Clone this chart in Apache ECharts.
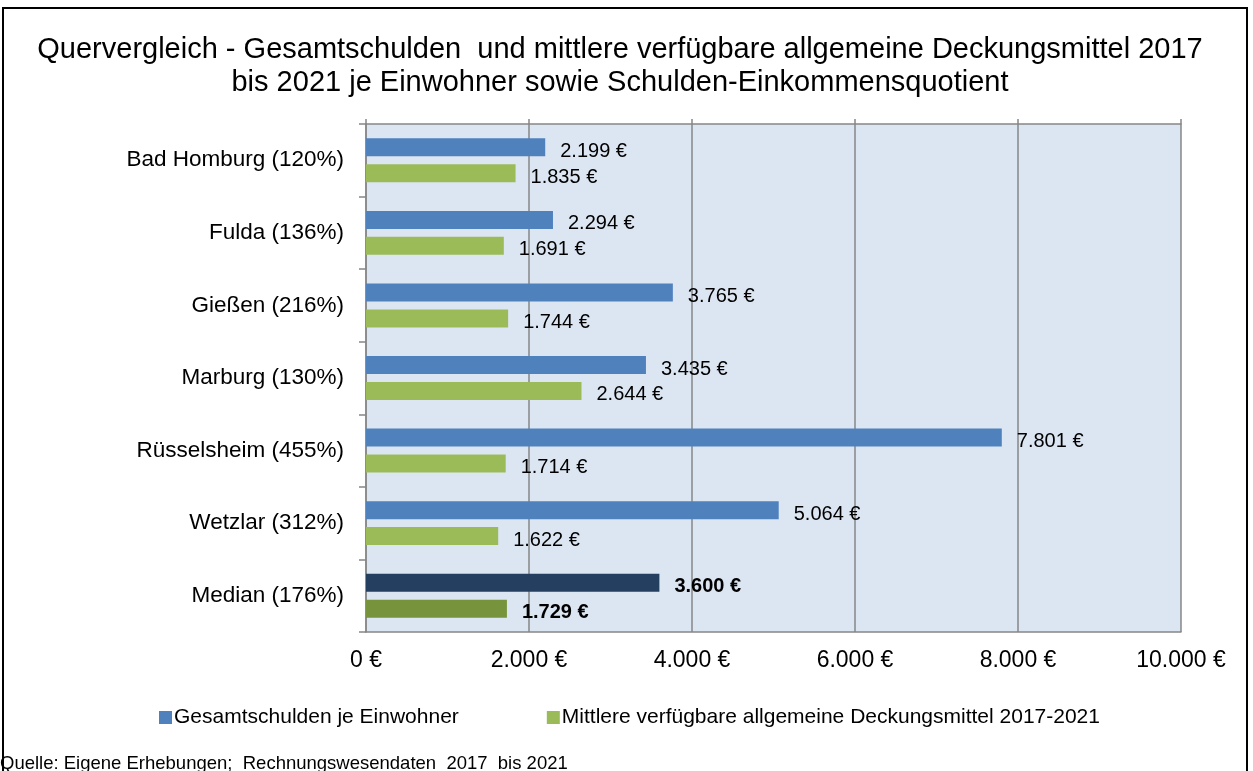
<!DOCTYPE html>
<html>
<head>
<meta charset="utf-8">
<script src="https://cdn.jsdelivr.net/npm/echarts@6/dist/echarts.min.js"></script>
<style>
  html, body { margin: 0; padding: 0; background: #fff; }
  #container { width: 1253px; height: 771px; }
</style>
</head>
<body>
<div id="container"></div>
<script>
var categories = ['Bad Homburg (120%)', 'Fulda (136%)', 'Gießen (216%)', 'Marburg (130%)',
    'Rüsselsheim (455%)', 'Wetzlar (312%)', 'Median (176%)'];
var schulden = [2199, 2294, 3765, 3435, 7801, 5064, 3600];
var deckungsmittel = [1835, 1691, 1744, 2644, 1714, 1622, 1729];
var xTicks = [0, 2000, 4000, 6000, 8000, 10000];

var FONT = '"Liberation Sans", Arial, sans-serif';

// 2199 -> "2.199"
function fmt(v) {
    return String(Math.round(v)).replace(/\B(?=(\d{3})+(?!\d))/g, '.');
}

function buildData(values, medianColor) {
    return values.map(function (v, i) {
        if (categories[i].indexOf('Median') === 0) {
            return {
                value: v,
                itemStyle: { color: medianColor },
                label: { fontWeight: 'bold' }
            };
        }
        return v;
    });
}

var myChart = echarts.init(document.getElementById('container'));

var labelStyle = {
    show: true,
    position: 'right',
    distance: 15,
    offset: [0, 4],
    fontSize: 20,
    color: '#000',
    fontFamily: FONT,
    formatter: function (p) { return fmt(p.value) + ' €'; }
};

myChart.setOption({
    backgroundColor: '#fff',
    animation: false,
    textStyle: { fontFamily: FONT },
    title: {
        text: 'Quervergleich - Gesamtschulden  und mittlere verfügbare allgemeine Deckungsmittel 2017\nbis 2021 je Einwohner sowie Schulden-Einkommensquotient',
        left: 615,
        textAlign: 'center',
        top: 28,
        textStyle: { fontSize: 29, fontWeight: 'normal', color: '#000', fontFamily: FONT, lineHeight: 33 }
    },
    legend: {
        left: 154,
        top: 702,
        itemWidth: 13,
        itemHeight: 13,
        itemGap: 88,
        icon: 'rect',
        textStyle: { fontSize: 21, color: '#000', fontFamily: FONT, padding: [0, 0, 0, -3] },
        data: ['Gesamtschulden je Einwohner', 'Mittlere verfügbare allgemeine Deckungsmittel 2017-2021']
    },
    grid: {
        left: 366,
        right: 72,
        top: 124,
        bottom: 139,
        show: true,
        backgroundColor: '#DCE6F2',
        borderWidth: 0
    },
    xAxis: [{
        type: 'value',
        min: xTicks[0],
        max: xTicks[xTicks.length - 1],
        interval: 2000,
        axisLine: { show: true, lineStyle: { color: '#878787', width: 1.5 } },
        axisTick: { show: false },
        splitLine: { show: true, lineStyle: { color: '#878787', width: 1.5 } },
        axisLabel: {
            fontSize: 23, color: '#000', margin: 17, fontFamily: FONT,
            formatter: function (v) { return fmt(v) + ' €'; }
        }
    }, {
        type: 'value',
        position: 'top',
        min: xTicks[0],
        max: xTicks[xTicks.length - 1],
        interval: 2000,
        axisLine: { show: true, lineStyle: { color: '#878787', width: 1.5 } },
        axisTick: { show: true, length: 5, lineStyle: { color: '#878787', width: 1.5 } },
        splitLine: { show: false },
        axisLabel: { show: false }
    }],
    yAxis: {
        type: 'category',
        inverse: true,
        data: categories,
        axisLine: { show: true, lineStyle: { color: '#878787', width: 1.5 } },
        axisTick: { show: true, length: 7, lineStyle: { color: '#878787', width: 1.5 } },
        axisLabel: { fontSize: 22.5, color: '#000', margin: 22, fontFamily: FONT }
    },
    series: [{
        name: 'Gesamtschulden je Einwohner',
        type: 'bar',
        barWidth: 18,
        barGap: '44%',
        itemStyle: { color: '#4F81BD' },
        label: labelStyle,
        data: buildData(schulden, '#243F60')
    }, {
        name: 'Mittlere verfügbare allgemeine Deckungsmittel 2017-2021',
        type: 'bar',
        barWidth: 18,
        itemStyle: { color: '#9BBB59' },
        label: labelStyle,
        data: buildData(deckungsmittel, '#77933C')
    }],
    graphic: [{
        type: 'rect',
        silent: true,
        shape: { x: 3, y: 8, width: 1244, height: 800 },
        style: { fill: null, stroke: '#000', lineWidth: 2 }
    }, {
        type: 'text',
        left: 0,
        top: 754,
        style: {
            text: 'Quelle: Eigene Erhebungen;  Rechnungswesendaten  2017  bis 2021',
            fontSize: 18.5,
            fill: '#000',
            fontFamily: FONT
        }
    }]
});
</script>
</body>
</html>
